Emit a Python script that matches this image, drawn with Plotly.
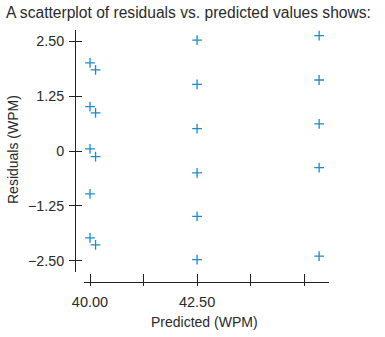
import plotly.graph_objects as go

# data
pred = [40.0, 40.13, 40.0, 40.13, 40.0, 40.13, 40.0, 40.0, 40.13,
        42.5, 42.5, 42.5, 42.5, 42.5, 42.5,
        45.35, 45.35, 45.35, 45.35, 45.35]
resid = [2.01, 1.85, 1.01, 0.87, 0.05, -0.13, -0.98, -1.98, -2.14,
         2.53, 1.52, 0.51, -0.50, -1.49, -2.48,
         2.63, 1.62, 0.62, -0.38, -2.40]
y_ticks = [-2.5, -1.25, 0, 1.25, 2.5]
y_ticktext = ["\u22122.50", "\u22121.25", "0", "1.25", "2.50"]
x_ticks = [40.0, 41.25, 42.5, 43.75, 45.0]
x_ticktext = ["40.00", "", "42.50", "", ""]

W, H = 385, 337
FONT = "Liberation Sans, Arial, sans-serif"
TXT = "#2a2a2a"

fig = go.Figure()
fig.add_trace(go.Scatter(
    x=pred, y=resid, mode="markers",
    marker=dict(symbol="cross-thin", size=7, color="#1b8bd0",
                line=dict(width=1.3, color="#1b8bd0")),
    showlegend=False, hoverinfo="skip"))
# invisible trace to activate the secondary axes
fig.add_trace(go.Scatter(x=[pred[0]], y=[resid[0]], xaxis="x2", yaxis="y2",
                         mode="markers", marker=dict(opacity=0),
                         showlegend=False, hoverinfo="skip"))

xdom = [84 / W, 329 / W]
ydom = [(H - 272) / H, (H - 30) / H]
xr = [39.86, 45.58]
yr = [-2.76, 2.76]
xpos = (H - 282) / H
ypos = 75 / W

common = dict(showgrid=False, zeroline=False, showline=True, linecolor="#222",
              linewidth=1, tickcolor="#222", tickwidth=1, automargin=False)

fig.update_layout(
    width=W, height=H, autosize=False,
    margin=dict(l=0, r=0, t=0, b=0, autoexpand=False),
    plot_bgcolor="white", paper_bgcolor="white",
    font=dict(family=FONT, size=14, color=TXT),
    xaxis=dict(domain=xdom, range=xr, anchor="free", position=xpos,
               tickmode="array", tickvals=x_ticks, ticktext=x_ticktext,
               ticks="outside", ticklen=3, ticklabelstandoff=4,
               tickfont=dict(size=14.5), **common),
    yaxis=dict(domain=ydom, range=yr, anchor="free", position=ypos,
               tickmode="array", tickvals=y_ticks, ticktext=y_ticktext,
               ticks="outside", ticklen=6, ticklabelstandoff=2,
               tickfont=dict(size=14.3), **common),
    xaxis2=dict(domain=xdom, range=xr, anchor="free", position=xpos,
                overlaying="x", tickmode="array", tickvals=x_ticks,
                showticklabels=False, ticks="inside", ticklen=8, **common),
    yaxis2=dict(domain=ydom, range=yr, anchor="free", position=ypos,
                overlaying="y", tickmode="array", tickvals=y_ticks,
                showticklabels=False, ticks="inside", ticklen=6, **common),
    annotations=[
        dict(text="A scatterplot of residuals vs. predicted values shows:",
             xref="paper", yref="paper", x=4 / W, y=1 - 12 / H,
             xanchor="left", yanchor="middle", showarrow=False,
             font=dict(family=FONT, size=15.6, color=TXT)),
        dict(text="Residuals (WPM)", xref="paper", yref="paper",
             x=13 / W, y=1 - 150 / H, textangle=-90,
             xanchor="center", yanchor="middle", showarrow=False,
             font=dict(family=FONT, size=14, color=TXT)),
        dict(text="Predicted (WPM)", xref="paper", yref="paper",
             x=205 / W, y=1 - 322 / H,
             xanchor="center", yanchor="middle", showarrow=False,
             font=dict(family=FONT, size=14, color=TXT)),
    ],
)

fig.write_html("out.html")
